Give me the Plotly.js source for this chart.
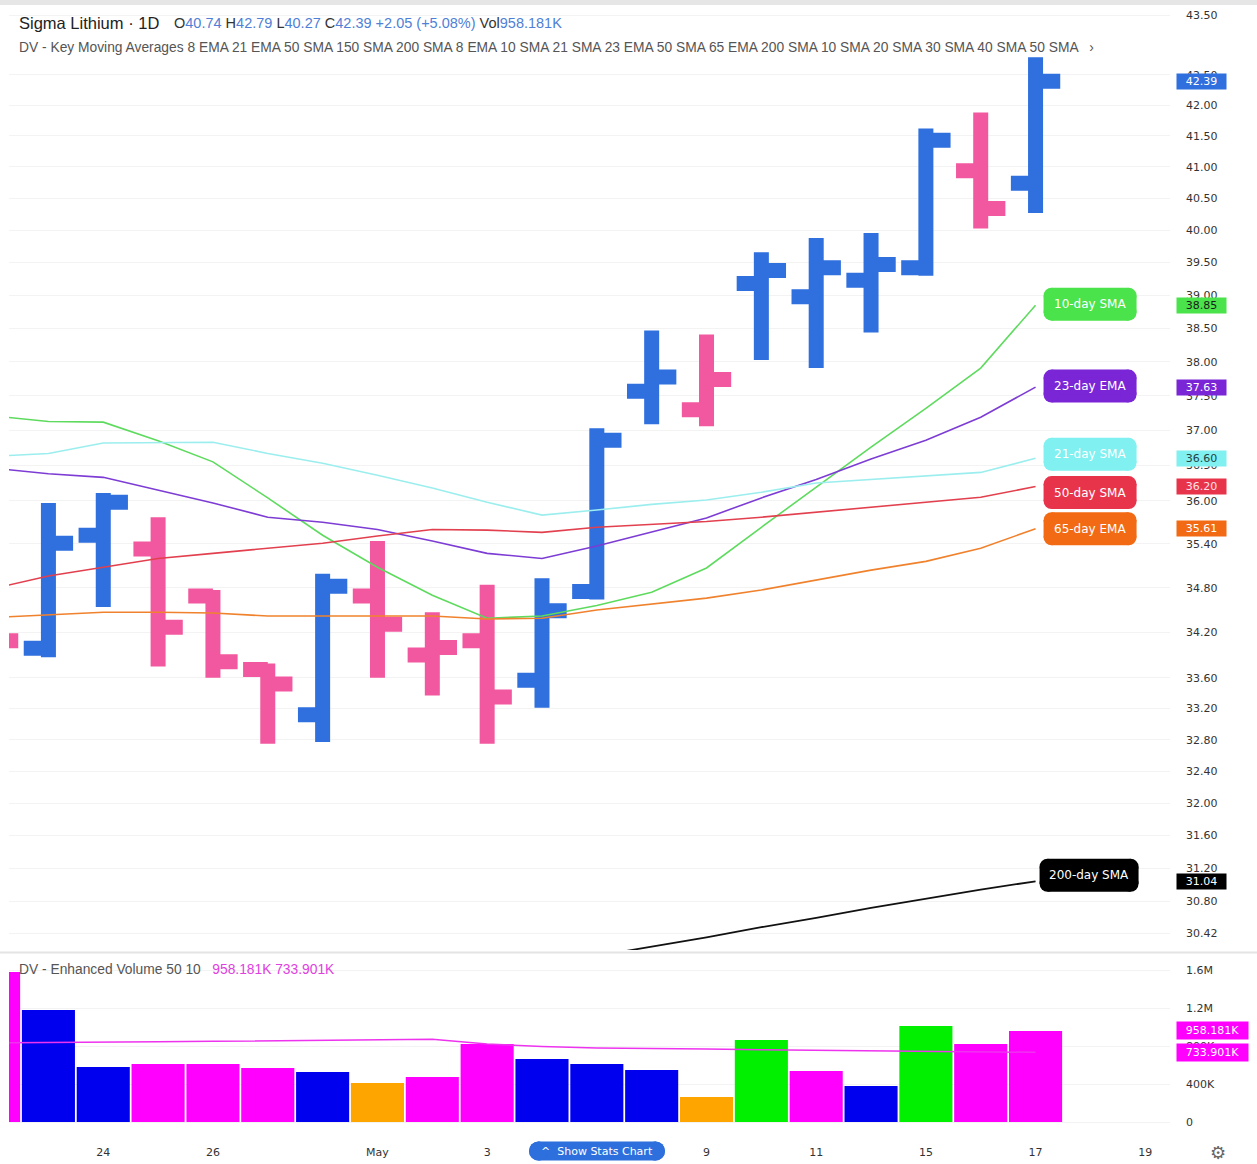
<!DOCTYPE html>
<html>
<head>
<meta charset="utf-8">
<script src="https://cdn.plot.ly/plotly-3.0.1.min.js"></script>
<style>
html,body{margin:0;padding:0;background:#fff;}
#chart{width:1257px;height:1164px;}
</style>
</head>
<body>
<div id="chart"></div>
<script>
// ---------------- DATA ----------------
const dates = ['2023-04-20','2023-04-21','2023-04-24','2023-04-25','2023-04-26','2023-04-27','2023-04-28',
  '2023-05-01','2023-05-02','2023-05-03','2023-05-04','2023-05-05','2023-05-08','2023-05-09','2023-05-10',
  '2023-05-11','2023-05-12','2023-05-15','2023-05-16','2023-05-17'];

const open  = [34.60,33.99,35.52,35.33,34.69,33.71,33.12,34.69,33.90,34.09,33.57,34.75,37.57,37.30,39.18,38.98,39.23,39.42,40.94,40.74];
const high  = [34.90,35.97,36.11,35.77,34.77,33.79,34.99,35.44,34.47,34.84,34.93,37.03,38.47,38.41,39.66,39.88,39.96,41.62,41.88,42.79];
const low   = [33.70,33.87,34.54,33.75,33.60,32.75,32.77,33.60,33.37,32.75,33.21,34.64,37.09,37.06,38.03,37.91,38.44,39.30,40.03,40.27];
const close = [34.09,35.41,35.98,34.27,33.81,33.52,34.82,34.31,34.00,33.35,34.49,36.86,37.78,37.74,39.38,39.42,39.47,41.43,40.34,42.39];

const sma10 = [37.21,37.13,37.12,36.85,36.55,36.04,35.52,35.08,34.70,34.39,34.42,34.56,34.74,35.07,35.63,36.19,36.76,37.32,37.91,38.85];
const ema23 = [36.46,36.38,36.33,36.15,35.97,35.77,35.70,35.60,35.44,35.27,35.20,35.37,35.56,35.76,36.04,36.30,36.59,36.86,37.19,37.63];
const sma21 = [36.63,36.67,36.82,36.83,36.83,36.67,36.53,36.36,36.18,35.98,35.80,35.87,35.95,36.01,36.12,36.25,36.30,36.35,36.40,36.60];
const sma50 = [34.79,34.96,35.08,35.20,35.27,35.34,35.41,35.51,35.60,35.59,35.56,35.63,35.67,35.71,35.77,35.84,35.91,35.98,36.05,36.20];
const ema65 = [34.40,34.44,34.47,34.47,34.46,34.42,34.42,34.43,34.42,34.38,34.39,34.50,34.58,34.66,34.77,34.90,35.04,35.16,35.34,35.61];
const sma200 = [null,null,null,null,null,null,null,null,null,null,null,30.15,30.26,30.37,30.49,30.60,30.72,30.83,30.94,31.04];

const volume = [1580000,1180000,579000,611000,611000,568000,526000,411000,474000,821000,663000,611000,547000,263000,863000,537000,379000,1011000,821000,958181];
const volType = ['down','up','up','down','down','down','up','dry','down','down','up','up','up','dry','surge','down','up','surge','down','down'];
const volMA = [832000,834000,840000,845000,850000,855000,860000,866000,870000,820000,795000,780000,777000,768000,760000,755000,748000,742000,738000,733901];

const xTickDates = ['2023-04-24','2023-04-26','2023-05-01','2023-05-03','2023-05-09','2023-05-11','2023-05-15','2023-05-17','2023-05-19'];
const xTickText  = ['24','26','May','3','9','11','15','17','19'];

const yTickVals = [30.42,30.80,31.20,31.60,32.00,32.40,32.80,33.20,33.60,34.20,34.80,35.40,36.00,36.50,37.00,37.50,38.00,38.50,39.00,39.50,40.00,40.50,41.00,41.50,42.00,42.50,43.50];
const yTickText = ['30.42','30.80','31.20','31.60','32.00','32.40','32.80','33.20','33.60','34.20','34.80','35.40','36.00','36.50','37.00','37.50','38.00','38.50','39.00','39.50','40.00','40.50','41.00','41.50','42.00','42.50','43.50'];

const volTickVals = [0,400000,800000,1200000,1600000];
const volTickText = ['0','400K','800K','1.2M','1.6M'];

const maNames = ['10-day SMA','23-day EMA','21-day SMA','50-day SMA','65-day EMA','200-day SMA'];

// ---------------- LAYOUT GEOMETRY ----------------
const W = 1257, H = 1164, ML = 9, MR = 87, MT = 5, MB = 40;
const plotW = W - ML - MR, plotH = H - MT - MB;
const bottomPx = H - MB;
const mainDomain = [(bottomPx - 950) / plotH, 1];
const volDomain = [0, (bottomPx - 955) / plotH];

const xs = dates.map(d => d + ' 12:00');
const lastX = xs[xs.length - 1];
const BLUE = '#2f6fde', PINK = '#f2589f';
const volColorMap = {up:'#0000ee', down:'#ff00ff', dry:'#ffa500', surge:'#00f000'};

// split bars by close vs previous close
const upIdx = [], dnIdx = [];
close.forEach((c, i) => {
  const ref = i === 0 ? open[0] : close[i - 1];
  (c >= ref ? upIdx : dnIdx).push(i);
});
function ohlcTrace(idx, color) {
  return {
    type: 'ohlc', xaxis: 'x', yaxis: 'y',
    x: idx.map(i => xs[i]), open: idx.map(i => open[i]), high: idx.map(i => high[i]),
    low: idx.map(i => low[i]), close: idx.map(i => close[i]),
    increasing: {line: {color: color, width: 15}},
    decreasing: {line: {color: color, width: 15}},
    tickwidth: 0.45, hoverinfo: 'none', showlegend: false
  };
}
function maTrace(y, color, w) {
  return {type: 'scatter', mode: 'lines', x: xs, y: y, xaxis: 'x', yaxis: 'y',
    line: {color: color, width: w || 1.6}, hoverinfo: 'none', showlegend: false, connectgaps: false};
}

const maSeries = [sma10, ema23, sma21, sma50, ema65, sma200];
const maLineColors = ['#5edb5e', '#7d3cd4', '#9ceeee', '#e2404e', '#f0822e', '#111111'];
const maBoxColors = ['#4be34b', '#7a25d6', '#80f0f0', '#e8344b', '#f26b14', '#000000'];
const maTagText = ['#1b1b1b', '#ffffff', '#224444', '#ffe0e6', '#ffffff', '#ffffff'];
const maBoxDy = [1, 1, 4, -6, 0, 6];
const maBoxW = [93, 93, 93, 93, 93, 99];
const maBoxOff = [8, 8, 8, 8, 8, 4];

const traces = [];
maSeries.forEach((s, k) => traces.push(maTrace(s, maLineColors[k], k === 5 ? 1.8 : 1.6)));
traces.push(ohlcTrace(upIdx, BLUE));
traces.push(ohlcTrace(dnIdx, PINK));
traces.push({type: 'bar', x: xs, y: volume, xaxis: 'x', yaxis: 'y2',
  marker: {color: volType.map(t => volColorMap[t]), line: {width: 0}},
  width: 0.968 * 86400000, hoverinfo: 'none', showlegend: false});
traces.push({type: 'scatter', mode: 'lines', x: xs, y: volMA, xaxis: 'x', yaxis: 'y2',
  line: {color: '#ee33ee', width: 1.5}, hoverinfo: 'none', showlegend: false});

// rounded box built from pixel-sized rects + corner circles (paper anchored)
function roundBox(xa, ya, off, w, h, r, dy, color) {
  const base = {xref: 'paper', yref: 'paper', xsizemode: 'pixel', ysizemode: 'pixel', xanchor: xa, yanchor: ya,
    fillcolor: color, line: {width: 0}, layer: 'above'};
  const out = [];
  const yb = dy - h / 2, yt = dy + h / 2;
  out.push(Object.assign({type: 'rect', x0: off + r, x1: off + w - r, y0: yb, y1: yt}, base));
  out.push(Object.assign({type: 'rect', x0: off, x1: off + w, y0: yb + r, y1: yt - r}, base));
  [[off + r, yb + r], [off + w - r, yb + r], [off + r, yt - r], [off + w - r, yt - r]].forEach(c => {
    out.push(Object.assign({type: 'circle', x0: c[0] - r, x1: c[0] + r, y0: c[1] - r, y1: c[1] + r}, base));
  });
  return out;
}

let shapes = [];
const annotations = [];

// top strip and pane separator
shapes.push({type: 'rect', xref: 'paper', yref: 'paper', x0: -ML / plotW, x1: (W - ML) / plotW,
  y0: 1, y1: 1 + MT / plotH, fillcolor: '#e6e6e6', line: {width: 0}, layer: 'above'});
shapes.push({type: 'line', xref: 'paper', yref: 'paper', x0: -ML / plotW, x1: (W - ML) / plotW,
  y0: (bottomPx - 952.5) / plotH, y1: (bottomPx - 952.5) / plotH, line: {color: '#e4e4e4', width: 2}});
// last price line
shapes.push({type: 'line', xref: 'paper', yref: 'y', x0: 0, x1: 1.005,
  y0: Math.log10(close[close.length - 1]), y1: Math.log10(close[close.length - 1]),
  line: {color: '#d0d0d0', width: 1}, layer: 'below'});

// axis tags for MAs
maSeries.forEach((s, k) => {
  const v = s[s.length - 1];
  annotations.push({xref: 'paper', yref: 'y', x: 1, y: Math.log10(v), xanchor: 'left', yanchor: 'middle',
    xshift: 6, text: v.toFixed(2), showarrow: false, bgcolor: maBoxColors[k], width: 47, height: 13,
    borderpad: 1, font: {family: 'DejaVu Sans', size: 11, color: maTagText[k]}});
});
// last price tag
annotations.push({xref: 'paper', yref: 'y', x: 1, y: Math.log10(close[close.length - 1]), xanchor: 'left',
  yanchor: 'middle', xshift: 6, text: close[close.length - 1].toFixed(2), showarrow: false, bgcolor: BLUE,
  width: 47, height: 13, borderpad: 1, font: {family: 'DejaVu Sans', size: 11, color: '#ffffff'}});
// volume tags
[volume[volume.length - 1], volMA[volMA.length - 1]].forEach(v => {
  annotations.push({xref: 'paper', yref: 'y2', x: 1, y: v, xanchor: 'left', yanchor: 'middle', xshift: 6,
    text: (v / 1000).toFixed(3) + 'K', showarrow: false, bgcolor: '#ff00ff', width: 67, height: 13, borderpad: 2,
    font: {family: 'DejaVu Sans', size: 11, color: '#ffffff'}});
});

// header texts
const hv = c => `<span style="color:#4f7fd6">${c}</span>`;
annotations.push({xref: 'paper', yref: 'paper', x: 0, y: 1, xanchor: 'left', yanchor: 'middle', xshift: 8, yshift: -18,
  text: 'Sigma Lithium · 1D', showarrow: false, font: {family: 'Liberation Sans, Arial', size: 16.5, color: '#222'}});
annotations.push({xref: 'paper', yref: 'paper', x: 0, y: 1, xanchor: 'left', yanchor: 'middle', xshift: 163, yshift: -18,
  text: 'O' + hv(open[19].toFixed(2)) + ' H' + hv(high[19].toFixed(2)) + ' L' + hv(low[19].toFixed(2)) + ' C' +
    hv(close[19].toFixed(2)) + ' ' + hv('+2.05 (+5.08%)') + ' Vol' + hv('958.181K'),
  showarrow: false, font: {family: 'Liberation Sans, Arial', size: 14.5, color: '#333'}});
annotations.push({xref: 'paper', yref: 'paper', x: 0, y: 1, xanchor: 'left', yanchor: 'middle', xshift: 8, yshift: -42,
  text: 'DV - Key Moving Averages 8 EMA 21 EMA 50 SMA 150 SMA 200 SMA 8 EMA 10 SMA 21 SMA 23 EMA 50 SMA 65 EMA 200 SMA 10 SMA 20 SMA 30 SMA 40 SMA 50 SMA   ›',
  showarrow: false, font: {family: 'Liberation Sans, Arial', size: 13.8, color: '#555'}});
annotations.push({xref: 'paper', yref: 'paper', x: 0, y: volDomain[1], xanchor: 'left', yanchor: 'middle', xshift: 8, yshift: -14,
  text: 'DV - Enhanced Volume 50 10   <span style="color:#e040e0">958.181K 733.901K</span>',
  showarrow: false, font: {family: 'Liberation Sans, Arial', size: 13.8, color: '#555'}});

// Show Stats Chart pill
const pillX = (597 - ML) / plotW;
shapes = shapes.concat(roundBox(pillX, 0, -68, 136, 19, 9.5, -27, '#2d6fdc'));
annotations.push({xref: 'paper', yref: 'paper', x: pillX, y: 0, xanchor: 'center', yanchor: 'middle', yshift: -27,
  text: '^  Show Stats Chart', showarrow: false, font: {family: 'DejaVu Sans', size: 11, color: '#ffffff'}});
annotations.push({xref: 'paper', yref: 'paper', x: (1218 - ML) / plotW, y: 0, xanchor: 'center', yanchor: 'middle', yshift: -28,
  text: '⚙', showarrow: false, font: {family: 'DejaVu Sans', size: 18, color: '#666'}});

const layout = {
  width: W, height: H,
  margin: {l: ML, r: MR, t: MT, b: MB},
  paper_bgcolor: '#ffffff', plot_bgcolor: '#ffffff',
  showlegend: false, hovermode: false, dragmode: false,
  xaxis: {
    type: 'date', anchor: 'y2',
    rangebreaks: [{bounds: ['sat', 'mon']}],
    range: ['2023-04-20 18:45', '2023-05-19 22:50'],
    tickvals: xTickDates.map(d => d + ' 12:00'), ticktext: xTickText,
    showgrid: false, zeroline: false, showline: false, ticks: '',
    ticklabelstandoff: 20,
    tickfont: {family: 'DejaVu Sans', size: 11, color: '#333'},
    rangeslider: {visible: false}, fixedrange: true
  },
  yaxis: {
    type: 'log', domain: mainDomain, anchor: 'x', side: 'right',
    range: [Math.log10(30.22), Math.log10(43.67)],
    tickvals: yTickVals, ticktext: yTickText,
    showgrid: true, gridcolor: '#f3f3f3', gridwidth: 1, zeroline: false, showline: false, ticks: '',
    ticklabelstandoff: 15,
    tickfont: {family: 'DejaVu Sans', size: 11, color: '#333'}, fixedrange: true
  },
  yaxis2: {
    domain: volDomain, anchor: 'x', side: 'right',
    range: [-21000, 1758000],
    tickvals: volTickVals, ticktext: volTickText,
    showgrid: true, gridcolor: '#f3f3f3', zeroline: false, showline: false, ticks: '',
    ticklabelstandoff: 15,
    tickfont: {family: 'DejaVu Sans', size: 11, color: '#333'}, fixedrange: true
  },
  shapes: shapes,
  annotations: annotations
};

Plotly.newPlot('chart', traces, layout, {staticPlot: true, displayModeBar: false}).then(gd => {
  // place the MA label boxes at each line's end, using the library's own axis scales
  const fl = gd._fullLayout, xa = fl.xaxis, ya = fl.yaxis, sz = fl._size;
  const xPaper = xa.d2p(lastX) / sz.w;
  const extraShapes = [], extraAnn = [];
  maSeries.forEach((s, k) => {
    const v = s[s.length - 1];
    const py = ya._offset + ya.d2p(v);
    const yPaper = 1 - (py - sz.t) / sz.h;
    roundBox(xPaper, yPaper, maBoxOff[k], maBoxW[k], 33, 8, maBoxDy[k], maBoxColors[k]).forEach(sh => extraShapes.push(sh));
    extraAnn.push({xref: 'paper', yref: 'paper', x: xPaper, y: yPaper, xanchor: 'center', yanchor: 'middle',
      xshift: maBoxOff[k] + maBoxW[k] / 2, yshift: maBoxDy[k], text: maNames[k], showarrow: false,
      font: {family: 'DejaVu Sans', size: 12, color: '#ffffff'}});
  });
  return Plotly.relayout(gd, {shapes: shapes.concat(extraShapes), annotations: annotations.concat(extraAnn)});
});
</script>
</body>
</html>
